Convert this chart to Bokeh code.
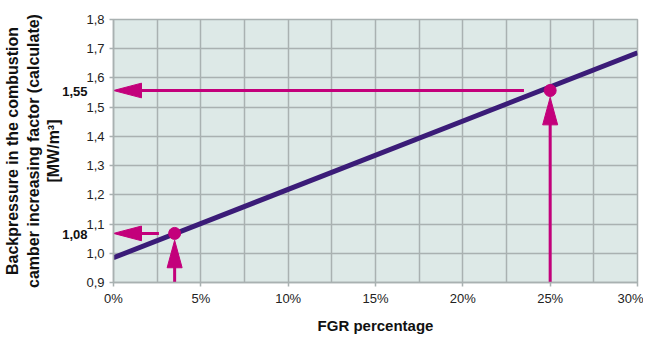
from bokeh.plotting import figure
from bokeh.models import FixedTicker, Range1d, LinearAxis
from bokeh.embed import file_html
from bokeh.resources import INLINE

# ---- data ----
fgr_line = [0, 30]                 # FGR percentage
factor_line = [0.985, 1.686]       # increasing factor
point_x = [3.5, 25]                # marked points (FGR %)
point_y = [1.068, 1.557]           # factor at marked points
read_labels = ["1,08", "1,55"]     # read-off values
read_label_y = [1.063, 1.555]      # where the read-off values are written
shaft_end_x = [2.6, 23.5]          # where horizontal read-off shafts end
x_ticks = [0, 5, 10, 15, 20, 25, 30]
x_tick_labels = ["0%", "5%", "10%", "15%", "20%", "25%", "30%"]
y_ticks = [0.9, 1.0, 1.1, 1.2, 1.3, 1.4, 1.5, 1.6, 1.7, 1.8]
y_tick_labels = ["0,9", "1,0", "1,1", "1,2", "1,3", "1,4", "1,5", "1,6", "1,7", "1,8"]

FONT = "Liberation Sans"
PURPLE = "#3b1c78"
MAGENTA = "#c3007b"
GRID = "#a9b1b1"

W, H = 643, 336
BL, BR, BT, BB = 113, 6, 19, 49
p = figure(width=W, height=H, output_backend="svg", toolbar_location=None,
           x_range=Range1d(0, 30), y_range=Range1d(0.9, 1.8),
           min_border_left=BL, min_border_right=BR, min_border_top=BT, min_border_bottom=BB)
p.background_fill_color = "#dde9e7"
p.border_fill_color = "white"
p.outline_line_color = GRID
p.outline_line_width = 1.5

fw, fh = W - BL - BR, H - BT - BB
px_x = 30 / fw
px_y = 0.9 / fh

# axes
p.xaxis.ticker = FixedTicker(ticks=x_ticks)
p.xaxis.major_label_overrides = {t: l for t, l in zip(x_ticks, x_tick_labels)}
p.yaxis.ticker = FixedTicker(ticks=y_ticks)
p.yaxis.major_label_overrides = {t: l for t, l in zip(y_ticks, y_tick_labels)}
for ax in (p.xaxis, p.yaxis):
    ax.axis_line_color = GRID
    ax.axis_line_width = 1.5
    ax.major_tick_line_color = GRID
    ax.major_tick_line_width = 1.5
    ax.major_tick_in = 0
    ax.major_tick_out = 4
    ax.minor_tick_line_color = None
    ax.major_label_text_font = FONT
    ax.major_label_text_font_size = "13px"
    ax.major_label_text_color = "#222222"
    ax.axis_label_text_font = FONT
    ax.axis_label_text_font_style = "bold"
    ax.axis_label_text_color = "#111111"
p.xaxis.axis_label = "FGR percentage"
p.xaxis.axis_label_text_font_size = "15px"
p.xaxis.major_label_standoff = 4
p.xaxis.axis_label_standoff = 8
p.yaxis.major_label_standoff = 5

# second left axis: bold read-off values + axis title
ax2 = LinearAxis(ticker=FixedTicker(ticks=read_label_y),
                 major_label_overrides={t: l for t, l in zip(read_label_y, read_labels)})
ax2.axis_line_color = None
ax2.major_tick_line_color = None
ax2.major_tick_in = 0
ax2.major_tick_out = 0
ax2.minor_tick_line_color = None
ax2.major_label_standoff = -4
ax2.major_label_text_font = FONT
ax2.major_label_text_font_style = "bold"
ax2.major_label_text_font_size = "13px"
ax2.major_label_text_color = "#111111"
ax2.axis_label = "Backpressure in the combustion\ncamber increasing factor (calculate)\n[MW/m³]"
ax2.axis_label_text_font = FONT
ax2.axis_label_text_font_style = "bold"
ax2.axis_label_text_font_size = "16px"
ax2.axis_label_text_color = "#111111"
ax2.axis_label_standoff = -3
p.add_layout(ax2, "left")

# grid
p.xgrid.ticker = FixedTicker(ticks=[i * 2.5 for i in range(13)])
p.ygrid.ticker = FixedTicker(ticks=y_ticks)
for g in (p.xgrid, p.ygrid):
    g.grid_line_color = GRID
    g.grid_line_width = 1.5

# main line
p.line(fgr_line, factor_line, line_color=PURPLE, line_width=5)

# read-off arrows
head_len, head_w = 28, 15
gap = 7  # px between point and vertical arrow tip
hx0, hx1, hy = [], [], []
hxs, hys = [], []
vx, vy0, vy1 = [], [], []
vxs, vys = [], []
for x, y, sx in zip(point_x, point_y, shaft_end_x):
    hx0.append(sx); hx1.append(head_len * px_x * 0.9); hy.append(y)
    hxs.append([0, head_len * px_x, head_len * px_x])
    hys.append([y, y + head_w / 2 * px_y, y - head_w / 2 * px_y])
    tip = y - gap * px_y
    vx.append(x); vy0.append(0.9); vy1.append(tip - head_len * px_y * 0.9)
    vxs.append([x, x - head_w / 2 * px_x, x + head_w / 2 * px_x])
    vys.append([tip, tip - head_len * px_y, tip - head_len * px_y])

p.segment(x0=hx0, y0=hy, x1=hx1, y1=hy, line_color=MAGENTA, line_width=3)
p.segment(x0=vx, y0=vy0, x1=vx, y1=vy1, line_color=MAGENTA, line_width=3)
p.patches(hxs, hys, fill_color=MAGENTA, line_color=MAGENTA)
p.patches(vxs, vys, fill_color=MAGENTA, line_color=MAGENTA)
p.scatter(point_x, point_y, size=12, fill_color=MAGENTA, line_color=MAGENTA)

open("out.html", "w").write(file_html(p, INLINE))
